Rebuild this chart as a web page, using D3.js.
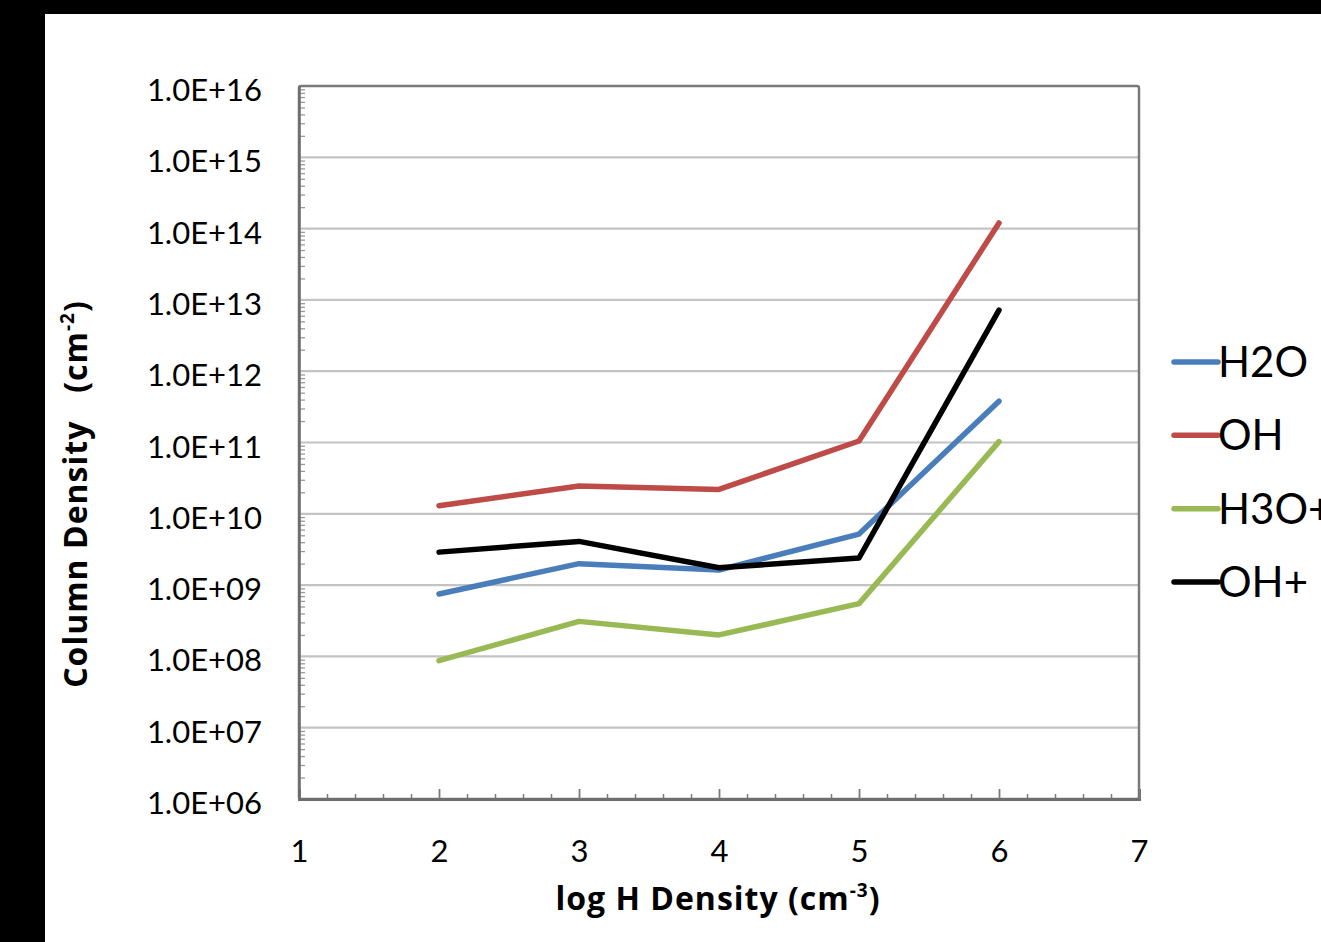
<!DOCTYPE html>
<html>
<head>
<meta charset="utf-8">
<script src="https://cdn.jsdelivr.net/npm/d3@7"></script>
<style>
  html, body { margin: 0; padding: 0; background: #000; }
  svg { display: block; }
  text { fill: #000; }
  .tick text, .legend-label { font-family: Lato, "Open Sans", sans-serif; }
  .axis-title { font-family: "Open Sans", Lato, sans-serif; font-weight: bold; letter-spacing: 1px; }
</style>
</head>
<body>
<svg id="chart" width="1321" height="942"></svg>
<script>
// log H density (cm^-3)
const densities = [2, 3, 4, 5, 6];

// column densities (cm^-2) per species
const h2o  = [7.5e8, 2.0e9, 1.63e9, 5.2e9, 3.8e11];
const oh   = [1.3e10, 2.45e10, 2.2e10, 1.05e11, 1.2e14];
const h3op = [8.7e7, 3.1e8, 2.0e8, 5.5e8, 1.03e11];
const ohp  = [2.9e9, 4.1e9, 1.75e9, 2.4e9, 7.2e12];

const seriesNames  = ["H2O", "OH", "H3O+", "OH+"];
const seriesColors = ["#4A7EBB", "#BE4B48", "#98B954", "#000000"];
const seriesValues = [h2o, oh, h3op, ohp];

const xTicks = [1, 2, 3, 4, 5, 6, 7];
const yDecades = [1e6, 1e7, 1e8, 1e9, 1e10, 1e11, 1e12, 1e13, 1e14, 1e15, 1e16];

const svg = d3.select("#chart");

// page background with dark frame along top and left
svg.append("rect").attr("width", 1321).attr("height", 942).attr("fill", "#000");
svg.append("rect").attr("x", 45).attr("y", 14).attr("width", 1321 - 45).attr("height", 942 - 14).attr("fill", "#fff");

const x = d3.scaleLinear().domain([1, 7]).range([299, 1139]);
const y = d3.scaleLog().domain([1e6, 1e16]).range([799, 86]);

const plot = svg.append("g");

// horizontal gridlines at each decade
plot.append("g")
  .selectAll("line")
  .data(yDecades.slice(1, -1))
  .join("line")
  .attr("x1", x(1)).attr("x2", x(7))
  .attr("y1", d => y(d)).attr("y2", d => y(d))
  .attr("stroke", "#c3c3c3")
  .attr("stroke-width", 2.2);

// plot area border
plot.append("rect")
  .attr("x", x(1)).attr("y", y(1e16))
  .attr("width", x(7) - x(1)).attr("height", y(1e6) - y(1e16))
  .attr("fill", "none")
  .attr("stroke", "#7a7a7a")
  .attr("stroke-width", 2.5)
  .attr("rx", 2);

// minor log ticks on the y axis, pointing into the plot
const yMinor = [];
yDecades.slice(0, -1).forEach(d => { for (let k = 2; k <= 9; k++) yMinor.push(d * k); });
plot.append("g")
  .attr("transform", `translate(${x(1)},0)`)
  .call(d3.axisLeft(y).tickValues(yMinor).tickSize(-6).tickFormat(""))
  .call(g => g.select(".domain").remove())
  .call(g => g.selectAll("line").attr("stroke", "#9a9a9a").attr("stroke-width", 1.3));

// minor x ticks every 0.2, pointing up
const xMinor = d3.range(1, 7.001, 0.2).filter(v => Math.abs(v - Math.round(v)) > 1e-6);
plot.append("g")
  .attr("transform", `translate(0,${y(1e6)})`)
  .call(d3.axisBottom(x).tickValues(xMinor).tickSize(-5).tickFormat(""))
  .call(g => g.select(".domain").remove())
  .call(g => g.selectAll("line").attr("stroke", "#7a7a7a").attr("stroke-width", 1.5));

// major x ticks with labels
plot.append("g")
  .attr("transform", `translate(0,${y(1e6)})`)
  .call(d3.axisBottom(x).tickValues(xTicks).tickSize(-10).tickPadding(41).tickFormat(d3.format("d")))
  .call(g => g.select(".domain").attr("stroke", "#6e6e6e").attr("stroke-width", 3))
  .call(g => g.selectAll("line").attr("stroke", "#7a7a7a").attr("stroke-width", 1.8))
  .call(g => g.selectAll("text").attr("font-size", 31).attr("fill", "#000"));

// y tick labels in E notation
const fmtE = d => "1.0E+" + String(Math.round(Math.log10(d))).padStart(2, "0");
plot.append("g")
  .attr("transform", `translate(${x(1)},0)`)
  .call(d3.axisLeft(y).tickValues(yDecades).tickSize(0).tickPadding(37).tickFormat(fmtE))
  .call(g => g.select(".domain").attr("stroke", "#6e6e6e").attr("stroke-width", 2.5))
  .call(g => g.selectAll("text").attr("font-size", 31).attr("dy", "0.47em").attr("fill", "#000"));

// series lines
const line = d3.line()
  .x((d, i) => x(densities[i]))
  .y(d => y(d));

plot.append("g")
  .selectAll("path")
  .data(seriesValues)
  .join("path")
  .attr("d", d => line(d))
  .attr("fill", "none")
  .attr("stroke", (d, i) => seriesColors[i])
  .attr("stroke-width", 5.5)
  .attr("stroke-linejoin", "round")
  .attr("stroke-linecap", "round");

// legend
const legend = svg.append("g");
const legendY = d3.scalePoint().domain(seriesNames).range([362, 582]);
seriesNames.forEach((name, i) => {
  const ly = legendY(name);
  legend.append("line")
    .attr("x1", 1174).attr("x2", 1218)
    .attr("y1", ly).attr("y2", ly)
    .attr("stroke", seriesColors[i])
    .attr("stroke-width", 5.5)
    .attr("stroke-linecap", "round");
  legend.append("text")
    .attr("class", "legend-label")
    .attr("x", 1218).attr("y", ly + 15)
    .attr("font-size", 42)
    .text(name);
});

// axis titles
const xTitle = svg.append("text")
  .attr("class", "axis-title")
  .attr("x", 718).attr("y", 910)
  .attr("text-anchor", "middle")
  .attr("font-size", 32);
xTitle.append("tspan").text("log H Density (cm");
xTitle.append("tspan").attr("font-size", 19).attr("dy", -13).text("-3");
xTitle.append("tspan").attr("dy", 13).text(")");

const yTitle = svg.append("text")
  .attr("class", "axis-title")
  .attr("transform", "translate(87,494) rotate(-90)")
  .attr("text-anchor", "middle")
  .attr("font-size", 32)
  .style("white-space", "pre");
yTitle.append("tspan").text("Column Density   (cm");
yTitle.append("tspan").attr("font-size", 19).attr("dy", -13).text("-2");
yTitle.append("tspan").attr("dy", 13).text(")");
</script>
</body>
</html>
